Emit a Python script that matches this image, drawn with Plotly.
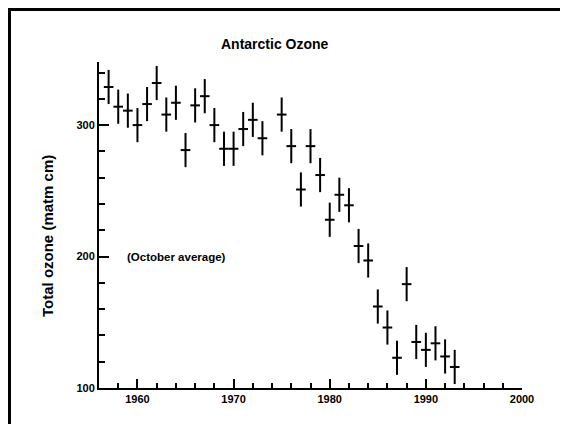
import plotly.graph_objects as go

years = [1957, 1958, 1959, 1960, 1961, 1962, 1963, 1964, 1965, 1966, 1967, 1968,
         1969, 1970, 1971, 1972, 1973, 1975, 1976, 1977, 1978, 1979, 1980, 1981,
         1982, 1983, 1984, 1985, 1986, 1987, 1988, 1989, 1990, 1991, 1992, 1993]
ozone = [329, 314, 311, 300, 316, 332, 308, 317, 281, 315, 322, 300,
         282, 282, 297, 304, 290, 308, 284, 251, 284, 262, 228, 247,
         239, 208, 197, 162, 146, 123, 179, 135, 129, 134, 124, 116]
ozone_err = 13
year_err = 0.5

font = "Liberation Sans, Arial, sans-serif"

fig = go.Figure()
fig.add_trace(go.Scatter(
    x=years, y=ozone, mode="markers",
    marker=dict(size=1, color="black"),
    error_y=dict(type="constant", value=ozone_err, thickness=2, width=0, color="black"),
    error_x=dict(type="constant", value=year_err, thickness=2, width=0, color="black"),
    showlegend=False, hoverinfo="x+y",
))

# page offset (body margin) of 8px
OFF = 8
W, H = 568 - OFF, 424 - OFF
# plot area in page coordinates
PL, PR, PT, PB = 99, 522, 62, 388
L = PL - OFF
T = PT - OFF
R = W - (PR - OFF)
B = H - (PB - OFF)
pw, ph = W - L - R, H - T - B

def px(xp):
    return (xp - PL) / pw

def py(yp):
    return (PB - yp) / ph

fig.update_layout(
    width=W, height=H,
    margin=dict(l=L, r=R, t=T, b=B),
    paper_bgcolor="white", plot_bgcolor="white",
    font=dict(family=font, color="black"),
    xaxis=dict(
        range=[1956, 2000], tick0=1960, dtick=10,
        ticks="inside", ticklen=9, tickwidth=2, tickcolor="black",
        showline=True, linewidth=2, linecolor="black",
        showgrid=False, zeroline=False,
        tickfont=dict(size=11, family=font, weight="bold"),
        minor=dict(dtick=2, tick0=1956, ticks="inside", ticklen=5, tickwidth=1.5, tickcolor="black", showgrid=False),
    ),
    yaxis=dict(
        range=[100, 348], tick0=100, dtick=100,
        ticks="inside", ticklen=10, tickwidth=2, tickcolor="black",
        showline=True, linewidth=2, linecolor="black",
        showgrid=False, zeroline=False,
        tickfont=dict(size=11, family=font, weight="bold"),
        minor=dict(dtick=20, tick0=100, ticks="inside", ticklen=6, tickwidth=1.5, tickcolor="black", showgrid=False),
    ),
    annotations=[
        dict(text="<b>Antarctic Ozone</b>", xref="paper", yref="paper",
             x=px(275), y=py(44), xanchor="center", yanchor="middle",
             showarrow=False, font=dict(size=14, family=font)),
        dict(text="<b>Total ozone (matm cm)</b>", xref="paper", yref="paper",
             x=px(47), y=py(236), xanchor="center", yanchor="middle", textangle=-90,
             showarrow=False, font=dict(size=15, family=font)),
        dict(text="<b>(October average)</b>", xref="x", yref="y",
             x=1958.7, y=200, xanchor="left", yanchor="middle",
             showarrow=False, font=dict(size=11.5, family=font)),
    ],
    shapes=[
        dict(type="path", xref="paper", yref="paper",
             path=f"M {px(580)} {py(9.5)} L {px(9.5)} {py(9.5)} L {px(9.5)} {py(440)}",
             line=dict(color="black", width=3)),
    ],
)

fig.write_html("out.html")
